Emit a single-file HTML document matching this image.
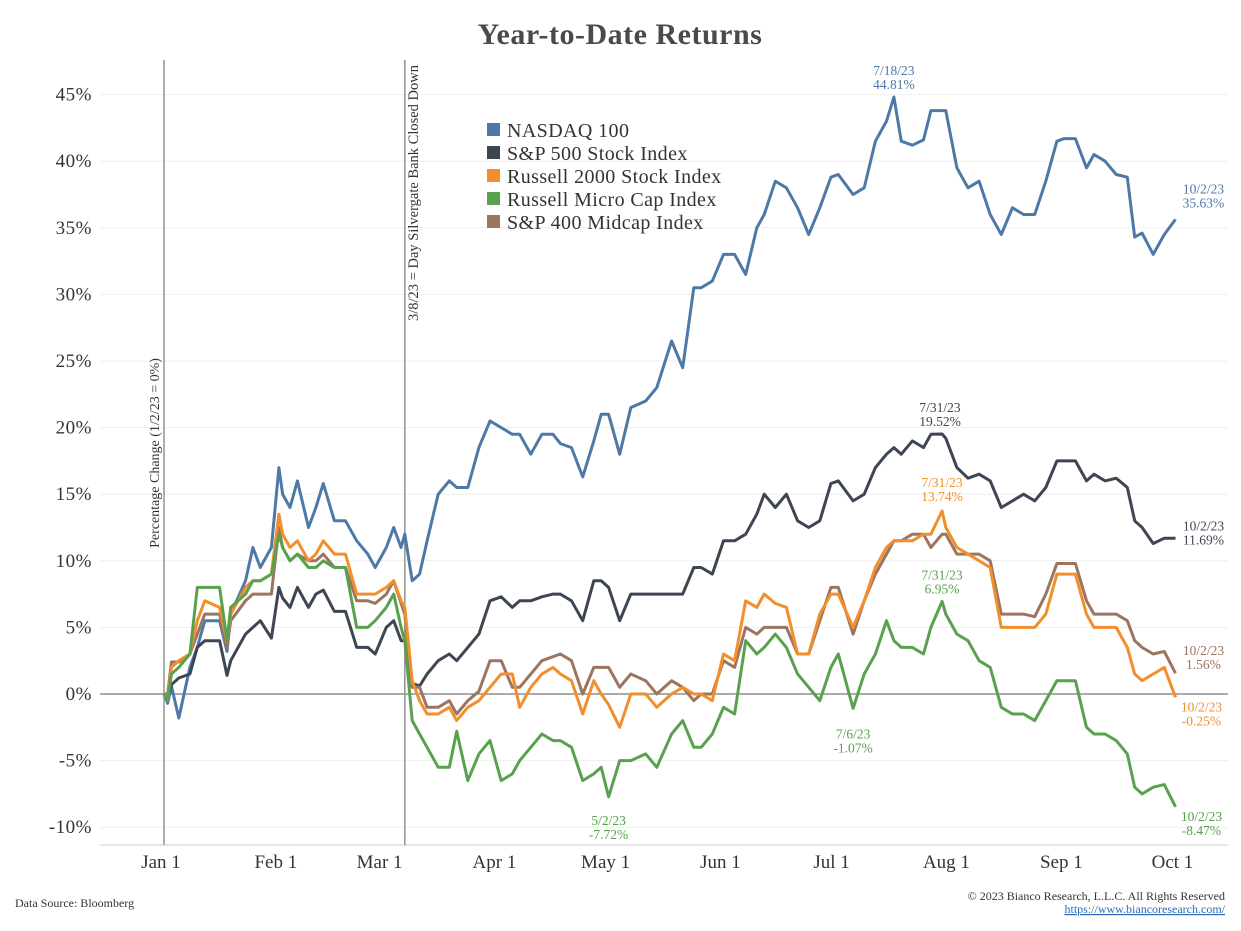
<!DOCTYPE html>
<html><head><meta charset="utf-8">
<style>
body{margin:0;background:#fff;width:1241px;height:931px;overflow:hidden;font-family:"Liberation Serif",serif;}
svg{display:block}
</style></head>
<body>
<svg id="chart" width="1241" height="931" xmlns="http://www.w3.org/2000/svg" font-family="Liberation Serif, serif">
<text x="620" y="44" text-anchor="middle" font-size="30" font-weight="bold" fill="#4a4a4a" letter-spacing="0.5">Year-to-Date Returns</text>
<g id="grid"></g>
<g id="axes"></g>
<g id="series"></g>
<g id="notes"></g>
<g font-size="20" fill="#333" letter-spacing="0.4">
 <rect x="487" y="123" width="13" height="13" fill="#4e79a7"/>
 <text x="507" y="137">NASDAQ 100</text>
 <rect x="487" y="146" width="13" height="13" fill="#3e4553"/>
 <text x="507" y="160">S&amp;P 500 Stock Index</text>
 <rect x="487" y="169" width="13" height="13" fill="#f28e2b"/>
 <text x="507" y="183">Russell 2000 Stock Index</text>
 <rect x="487" y="192" width="13" height="13" fill="#59a14f"/>
 <text x="507" y="206">Russell Micro Cap Index</text>
 <rect x="487" y="215" width="13" height="13" fill="#9c7560"/>
 <text x="507" y="229">S&amp;P 400 Midcap Index</text>
</g>
<text transform="translate(159,453) rotate(-90)" text-anchor="middle" font-size="14" fill="#333">Percentage Change (1/2/23 = 0%)</text>
<text transform="translate(418,65) rotate(-90)" text-anchor="end" font-size="14.5" fill="#333">3/8/23 = Day Silvergate Bank Closed Down</text>
<text x="15" y="907" font-size="12" fill="#333">Data Source: Bloomberg</text>
<text x="1225" y="900" text-anchor="end" font-size="12" fill="#333">© 2023 Bianco Research, L.L.C. All Rights Reserved</text>
<text x="1225" y="913" text-anchor="end" font-size="12" fill="#2a6bb5" text-decoration="underline">https://www.biancoresearch.com/</text>
</svg>
<script>
const days = [1,2,3,5,8,10,12,16,18,19,23,25,27,30,32,33,35,37,40,42,44,47,50,53,56,58,61,63,65,66,68,70,72,75,78,80,83,86,89,92,95,97,100,103,106,108,111,114,117,119,121,124,127,131,134,138,141,144,146,149,152,155,158,161,163,166,169,172,175,178,181,183,187,190,193,196,198,200,203,206,208,211,212,215,218,221,224,227,230,233,236,239,242,244,247,250,252,255,258,261,263,265,268,271,274];
const nasdaq = [0,-0.7,0.6,-1.8,2,3.5,5.5,5.5,3.2,6,8.5,11,9.5,11,17,15,14,16,12.5,14,15.8,13,13,11.5,10.5,9.5,11,12.5,11,12,8.5,9,11.5,15,16,15.5,15.5,18.5,20.5,20,19.5,19.5,18,19.5,19.5,18.8,18.5,16.3,19,21,21,18,21.5,22,23,26.5,24.5,30.5,30.5,31,33,33,31.5,35,36,38.5,38,36.5,34.5,36.5,38.8,39,37.5,38,41.5,43,44.81,41.5,41.2,41.6,43.8,43.8,43.8,39.5,38,38.5,36,34.5,36.5,36,36,38.5,41.5,41.7,41.7,39.5,40.5,40,39,38.8,34.3,34.6,33,34.5,35.63];
const sp500 = [0,-0.3,0.7,1.2,1.5,3.5,4,4,1.4,2.5,4.5,5,5.5,4.2,8,7.2,6.5,8,6.5,7.5,7.8,6.2,6.2,3.5,3.5,3,5,5.5,4,4,0.8,0.6,1.5,2.5,3,2.5,3.5,4.5,7,7.3,6.5,7,7,7.3,7.5,7.5,7,5.5,8.5,8.5,8,5.5,7.5,7.5,7.5,7.5,7.5,9.5,9.5,9,11.5,11.5,12,13.5,15,14,15,13,12.5,13,15.8,16,14.5,15,17,18,18.5,18,19,18.5,19.5,19.52,19.2,17,16.2,16.5,16,14,14.5,15,14.5,15.5,17.5,17.5,17.5,16,16.5,16,16.2,15.5,13,12.5,11.3,11.7,11.69];
const russell2000 = [0,-0.5,2,2.5,3,5.5,7,6.5,4,6,8,8.5,8.5,9,13.5,12,11,11.5,10,10.5,11.5,10.5,10.5,7.5,7.5,7.5,8,8.5,7,6.5,1,-0.5,-1.5,-1.5,-1,-2,-1,-0.5,0.5,1.5,1.5,-1,0.5,1.5,2,1.5,1,-1.5,1,0,-0.8,-2.5,0,0,-1,0,0.5,0,0,-0.5,3,2.5,7,6.5,7.5,6.8,6.5,3,3,6,7.5,7.5,5,7,9.5,11,11.5,11.5,11.5,12,12,13.74,12.5,11,10.5,10,9.5,5,5,5,5,6,9,9,9,6,5,5,5,3.5,1.5,1,1.5,2,-0.25];
const microcap = [0,-0.5,1.5,2,3,8,8,8,4,6.5,7.5,8.5,8.5,9,12,11,10,10.5,9.5,9.5,10,9.5,9.5,5,5,5.5,6.5,7.5,5,4,-2,-3,-4,-5.5,-5.5,-2.8,-6.5,-4.5,-3.5,-6.5,-6,-5,-4,-3,-3.5,-3.5,-4,-6.5,-6,-5.5,-7.72,-5,-5,-4.5,-5.5,-3,-2,-4,-4,-3,-1,-1.5,4,3,3.5,4.5,3.5,1.5,0.5,-0.5,2,3,-1.07,1.5,3,5.5,4,3.5,3.5,3,5,6.95,6,4.5,4,2.5,2,-1,-1.5,-1.5,-2,-0.5,1,1,1,-2.5,-3,-3,-3.5,-4.5,-7,-7.5,-7,-6.8,-8.47];
const midcap = [0,0,2.4,2.4,3,4.5,6,6,3.5,5.5,7,7.5,7.5,7.5,12.5,11,10,10.5,10,10,10.5,9.5,9.5,7,7,6.8,7.5,8.5,6.8,6,0.5,0.5,-1,-1,-0.5,-1.5,-0.5,0.2,2.5,2.5,0.5,0.5,1.5,2.5,2.8,3,2.5,0,2,2,2,0.5,1.5,1,0,1,0.5,-0.5,0,0,2.5,2,5,4.5,5,5,5,3,3,5.5,8,8,4.5,7,9,10.5,11.5,11.5,12,12,11,12,12,10.5,10.5,10.5,10,6,6,6,5.8,7.5,9.8,9.8,9.8,7,6,6,6,5.5,4,3.5,3,3.2,1.56];
const yTicks = [-10,-5,0,5,10,15,20,25,30,35,40,45];
const xTickDays = [1,32,60,91,121,152,182,213,244,274];
const xTickLabels = ["Jan 1","Feb 1","Mar 1","Apr 1","May 1","Jun 1","Jul 1","Aug 1","Sep 1","Oct 1"];

const NS="http://www.w3.org/2000/svg";
const X0=164, XS=3.705, Y0=694, YS=13.32;
function xs(d){return X0+(d-1)*XS;}
function ys(v){return Y0-v*YS;}
function mk(tag,attrs,parent){const e=document.createElementNS(NS,tag);for(const k in attrs)e.setAttribute(k,attrs[k]);parent.appendChild(e);return e;}
const grid=document.getElementById('grid'), axes=document.getElementById('axes'), ser=document.getElementById('series'), notes=document.getElementById('notes');

yTicks.forEach(v=>{
  const l=mk('line',{x1:100,x2:1228,y1:ys(v),y2:ys(v),stroke:'#efefef','stroke-width':1},grid);
  
  
  const t=mk('text',{x:92,y:ys(v)+6,'text-anchor':'end','font-size':19,fill:'#333','letter-spacing':0.5},axes);
  t.textContent=v+'%';
  
  
});
const z=mk('line',{x1:100,x2:1228,y1:ys(0),y2:ys(0),stroke:'#777','stroke-width':1.2},axes);


const xa=mk('line',{x1:100,x2:1228,y1:845,y2:845,stroke:'#ccc','stroke-width':1},axes);


xTickDays.forEach((d,i)=>{
  const t=mk('text',{x:xs(d)-3,y:868,'text-anchor':'middle','font-size':19,fill:'#333'},axes);
  t.textContent=xTickLabels[i];
  
  
});
[[1,'start-date-line'],[66,'silvergate-line']].forEach(([d,n])=>{
  const l=mk('line',{x1:xs(d),x2:xs(d),y1:60,y2:845,stroke:'#999','stroke-width':1.6},axes);
  
  
});

const seriesList=[
 ['nasdaq-line',nasdaq,'#4e79a7'],
 ['sp500-line',sp500,'#3e4553'],
 ['midcap-line',midcap,'#9c7560'],
 ['russell2000-line',russell2000,'#f28e2b'],
 ['microcap-line',microcap,'#59a14f']
];
seriesList.forEach(([n,vals,c])=>{
  const d=vals.map((v,i)=>(i?'L':'M')+xs(days[i]).toFixed(1)+','+ys(v).toFixed(1)).join('');
  const p=mk('path',{d:d,fill:'none',stroke:c,'stroke-width':3,'stroke-linejoin':'round'},ser);
  
  
});

const annos=[
 [nasdaq,198,'7/18/23',0,-22,'#4e79a7','nasdaq-peak-label'],
 [nasdaq,274,'10/2/23',28,-26,'#4e79a7','nasdaq-end-label'],
 [sp500,211,'7/31/23',-2,-22,'#3e4553','sp500-peak-label'],
 [sp500,274,'10/2/23',28,-8,'#3e4553','sp500-end-label'],
 [russell2000,211,'7/31/23',0,-24,'#f28e2b','russell2000-peak-label'],
 [russell2000,274,'10/2/23',26,14,'#f28e2b','russell2000-end-label'],
 [microcap,211,'7/31/23',0,-22,'#59a14f','microcap-peak-label'],
 [microcap,274,'10/2/23',26,14,'#59a14f','microcap-end-label'],
 [microcap,121,'5/2/23',0,28,'#59a14f','microcap-may-low-label'],
 [microcap,187,'7/6/23',0,30,'#59a14f','microcap-july-low-label'],
 [midcap,274,'10/2/23',28,-18,'#9c7560','midcap-end-label']
];
annos.forEach(([vals,d,lab,dx,dy,c,n])=>{
  const i=days.indexOf(d); const v=vals[i];
  const x=xs(d)+dx, y=ys(v)+dy;
  const t=mk('text',{x:x,y:y,'text-anchor':'middle','font-size':13.5,fill:c},notes);
  
  
  const a=mk('tspan',{x:x,dy:0},t); a.textContent=lab;
  const b=mk('tspan',{x:x,dy:14},t); b.textContent=v.toFixed(2)+'%';
});
</script>
</body></html>
